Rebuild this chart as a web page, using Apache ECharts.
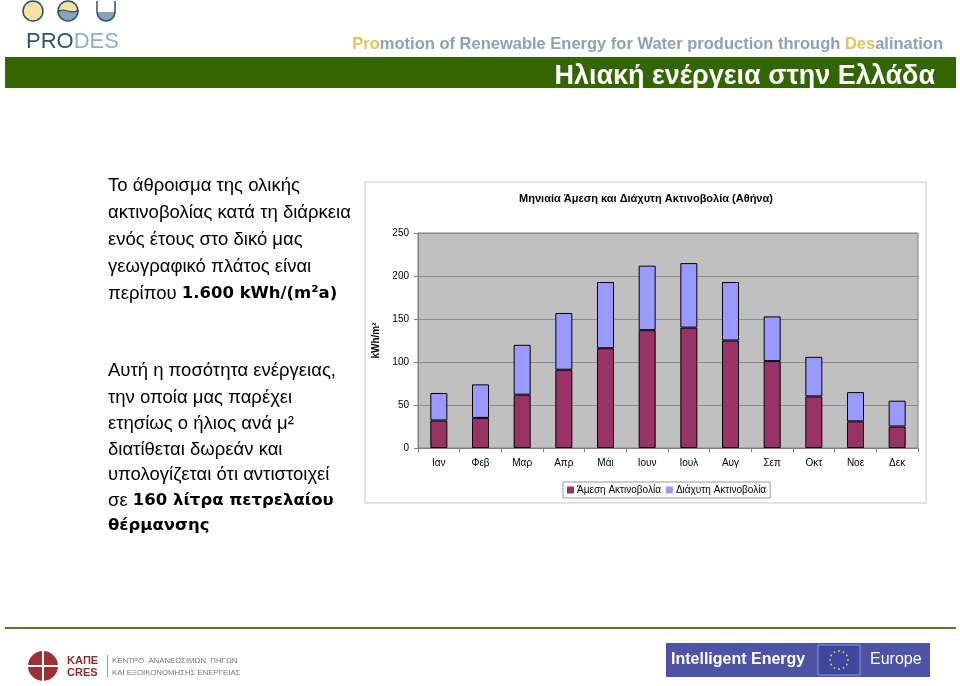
<!DOCTYPE html>
<html>
<head>
<meta charset="utf-8">
<script src="https://cdn.jsdelivr.net/npm/echarts@6/dist/echarts.min.js"></script>
<style>
  html, body { margin: 0; padding: 0; background: #fff; }
  #main { width: 960px; height: 686px; }
</style>
</head>
<body>
<div id="main"></div>
<script>
// μήνες και τιμές (kWh/m²) όπως διαβάζονται από το διάγραμμα
const months = ['Ιαν', 'Φεβ', 'Μαρ', 'Απρ', 'Μάι', 'Ιουν', 'Ιουλ', 'Αυγ', 'Σεπ', 'Οκτ', 'Νοε', 'Δεκ']
const directData = [32, 35, 62, 91, 116, 137, 140, 125, 101, 60, 31, 25]
const diffuseData = [32, 39, 58, 66, 77, 75, 75, 68, 52, 46, 34, 30]
const seriesNames = ['Άμεση Ακτινοβολία', 'Διάχυτη Ακτινοβολία']
const chartTitle = 'Μηνιαία Άμεση και Διάχυτη Ακτινοβολία (Αθήνα)'

const SANS = '"Liberation Sans", Arial, sans-serif'
const NARROW = '"Liberation Sans Narrow", "Liberation Sans", Arial, sans-serif'
const WIDE = '"DejaVu Sans", Verdana, sans-serif'

// γραμμές κειμένου αριστερά: [y, τμήματα]
const leftText = [
  [186, [['n', 'Το άθροισμα της ολικής']]],
  [213, [['n', 'ακτινοβολίας κατά τη διάρκεια']]],
  [240, [['n', 'ενός έτους στο δικό μας']]],
  [267, [['n', 'γεωγραφικό πλάτος είναι']]],
  [294, [['n', 'περίπου '], ['b', '1.600 kWh/(m²a)']]],
  [371, [['n', 'Αυτή η ποσότητα ενέργειας,']]],
  [398, [['n', 'την οποία μας παρέχει']]],
  [424, [['n', 'ετησίως ο ήλιος ανά μ²']]],
  [450, [['n', 'διατίθεται δωρεάν και']]],
  [475, [['n', 'υπολογίζεται ότι αντιστοιχεί']]],
  [501, [['n', 'σε '], ['b', '160 λίτρα πετρελαίου']]],
  [526, [['b', 'θέρμανσης']]]
]

let chart = echarts.init(document.getElementById('main'), null, {renderer: 'canvas'})

const graphics = []

// --- κεφαλίδα: λογότυπο PRODES ---
graphics.push({type: 'circle', shape: {cx: 33, cy: 11, r: 10}, style: {fill: '#f3e2a4', stroke: '#2c4f6e', lineWidth: 1.5}})
graphics.push({type: 'circle', shape: {cx: 68, cy: 11, r: 10}, style: {fill: '#f3e2a4'}})
graphics.push({type: 'sector', shape: {cx: 68, cy: 11, r: 10, startAngle: 0, endAngle: Math.PI}, style: {fill: '#8aa3b5'}})
graphics.push({type: 'bezierCurve', shape: {x1: 58, y1: 12, cpx1: 63, cpy1: 6, cpx2: 72, cpy2: 16, x2: 78, y2: 10}, style: {stroke: '#2c4f6e', lineWidth: 1.2, fill: null}})
graphics.push({type: 'circle', shape: {cx: 68, cy: 11, r: 10}, style: {fill: null, stroke: '#2c4f6e', lineWidth: 1.5}})
graphics.push({type: 'sector', shape: {cx: 106, cy: 12, r: 9, startAngle: 0, endAngle: Math.PI}, style: {fill: '#8aa3b5'}})
graphics.push({type: 'arc', shape: {cx: 106, cy: 12, r: 9, startAngle: 0, endAngle: Math.PI}, style: {stroke: '#2c4f6e', lineWidth: 1.5, fill: null}})
graphics.push({type: 'line', shape: {x1: 97, y1: 1, x2: 97, y2: 12}, style: {stroke: '#2c4f6e', lineWidth: 1.5}})
graphics.push({type: 'line', shape: {x1: 115, y1: 1, x2: 115, y2: 12}, style: {stroke: '#2c4f6e', lineWidth: 1.5}})
graphics.push({
  type: 'text', x: 26, y: 42,
  style: {
    text: '{a|PRO}{b|DES}', verticalAlign: 'middle',
    rich: {
      a: {fontSize: 22, fontFamily: NARROW, fill: '#2c5475'},
      b: {fontSize: 22, fontFamily: NARROW, fill: '#8fb0c8'}
    }
  }
})
graphics.push({
  type: 'text', x: 943, y: 44,
  style: {
    text: '{y|Pro}{g|motion of Renewable Energy for Water production through }{y|Des}{g|alination}',
    align: 'right', verticalAlign: 'middle',
    rich: {
      y: {fontSize: 16.5, fontWeight: 'bold', fontFamily: SANS, fill: '#e0c45e'},
      g: {fontSize: 16.5, fontWeight: 'bold', fontFamily: SANS, fill: '#8ea3ae'}
    }
  }
})
graphics.push({type: 'rect', shape: {x: 5, y: 57, width: 951, height: 31}, style: {fill: '#336600'}})
graphics.push({
  type: 'text', x: 935, y: 77,
  style: {text: 'Ηλιακή ενέργεια στην Ελλάδα', align: 'right', verticalAlign: 'middle',
    fontSize: 27, fontWeight: 'bold', fontFamily: SANS, fill: '#ffffff'}
})

// --- κείμενο αριστερά ---
leftText.forEach(([y, parts]) => {
  graphics.push({
    type: 'text', x: 108, y: y,
    style: {
      text: parts.map(([k, t]) => '{' + k + '|' + t + '}').join(''),
      verticalAlign: 'middle',
      rich: {
        n: {fontSize: 18.5, fontFamily: SANS, fill: '#000'},
        b: {fontSize: 16.5, fontWeight: 'bold', fontFamily: WIDE, fill: '#000'}
      }
    }
  })
})

// --- πλαίσιο διαγράμματος ---
graphics.push({type: 'rect', z: -5, shape: {x: 365, y: 182, width: 561, height: 321}, style: {fill: '#fff', stroke: '#c8c8c8', lineWidth: 1}})
graphics.push({
  type: 'text', x: 646, y: 199,
  style: {text: chartTitle, align: 'center', verticalAlign: 'middle', fontSize: 11, fontWeight: 'bold', fontFamily: SANS, fill: '#000'}
})

// --- υποσέλιδο ---
graphics.push({type: 'rect', shape: {x: 5, y: 627, width: 951, height: 2}, style: {fill: '#4d7a2e'}})
graphics.push({type: 'circle', shape: {cx: 43, cy: 666, r: 15}, style: {fill: '#9c3034'}})
graphics.push({type: 'rect', shape: {x: 42, y: 651, width: 2, height: 30}, style: {fill: '#fff'}})
graphics.push({type: 'rect', shape: {x: 28, y: 665, width: 30, height: 2}, style: {fill: '#fff'}})
graphics.push({
  type: 'text', x: 67, y: 661,
  style: {text: 'ΚΑΠΕ', verticalAlign: 'middle', fontSize: 11, fontWeight: 'bold', fontFamily: SANS, fill: '#8e2a2e'}
})
graphics.push({
  type: 'text', x: 67, y: 673,
  style: {text: 'CRES', verticalAlign: 'middle', fontSize: 11, fontWeight: 'bold', fontFamily: SANS, fill: '#8e2a2e'}
})
graphics.push({type: 'rect', shape: {x: 107, y: 655, width: 1, height: 22}, style: {fill: '#999'}})
graphics.push({
  type: 'text', x: 112, y: 661,
  style: {text: 'ΚΕΝΤΡΟ  ΑΝΑΝΕΩΣΙΜΩΝ  ΠΗΓΩΝ', verticalAlign: 'middle', fontSize: 7.8, fontFamily: NARROW, fill: '#777'}
})
graphics.push({
  type: 'text', x: 112, y: 673,
  style: {text: 'ΚΑΙ ΕΞΟΙΚΟΝΟΜΗΣΗΣ ΕΝΕΡΓΕΙΑΣ', verticalAlign: 'middle', fontSize: 7.8, fontFamily: NARROW, fill: '#777'}
})
graphics.push({type: 'rect', shape: {x: 666, y: 643, width: 264, height: 34}, style: {fill: '#4d54a6'}})
graphics.push({
  type: 'text', x: 671, y: 660,
  style: {text: 'Intelligent Energy', verticalAlign: 'middle', fontSize: 16, fontWeight: 'bold', fontFamily: NARROW, fill: '#fff'}
})
graphics.push({type: 'rect', shape: {x: 818, y: 645, width: 42, height: 30}, style: {fill: '#3d47a0', stroke: '#8f97d0', lineWidth: 1}})
for (let i = 0; i < 12; i++) {
  const a = i * Math.PI / 6
  graphics.push({type: 'circle', shape: {cx: 839 + 9 * Math.cos(a), cy: 660 + 9 * Math.sin(a), r: 0.9}, style: {fill: '#e8d24a'}})
}
graphics.push({
  type: 'text', x: 870, y: 660,
  style: {text: 'Europe', verticalAlign: 'middle', fontSize: 16, fontFamily: NARROW, fill: '#fff'}
})

chart.setOption({
  animation: false,
  backgroundColor: '#fff',
  textStyle: {fontFamily: SANS},
  graphic: graphics,
  grid: {
    left: 418,
    right: 42,
    top: 233,
    bottom: 238,
    show: true,
    backgroundColor: '#c0c0c0',
    borderColor: '#808080',
    borderWidth: 1
  },
  legend: {
    data: seriesNames.map(n => ({name: n, itemStyle: {borderWidth: 0}})),
    left: 563,
    top: 482,
    itemWidth: 7,
    itemHeight: 7,
    itemGap: 5,
    padding: [3, 4],
    borderColor: '#999',
    borderWidth: 1,
    icon: 'rect',
    textStyle: {fontSize: 10, color: '#000', padding: [0, 0, 0, -2]}
  },
  xAxis: {
    type: 'category',
    data: months,
    axisLine: {lineStyle: {color: '#808080'}},
    axisTick: {show: true, length: 4, lineStyle: {color: '#808080'}},
    axisLabel: {fontSize: 10, color: '#000', margin: 10}
  },
  yAxis: {
    type: 'value',
    min: 0,
    max: 250,
    interval: 50,
    name: 'kWh/m²',
    nameLocation: 'middle',
    nameRotate: 90,
    nameGap: 30,
    nameTextStyle: {fontSize: 10, fontWeight: 'bold', color: '#000'},
    axisLine: {show: true, lineStyle: {color: '#808080'}},
    axisTick: {show: true, length: 4, lineStyle: {color: '#808080'}},
    axisLabel: {fontSize: 10, color: '#000', margin: 9},
    splitLine: {lineStyle: {color: '#8c8c8c', width: 1}}
  },
  series: [
    {
      name: seriesNames[0],
      type: 'bar',
      stack: 'total',
      data: directData,
      barWidth: 17,
      itemStyle: {color: '#993366', borderColor: '#000', borderWidth: 1}
    },
    {
      name: seriesNames[1],
      type: 'bar',
      stack: 'total',
      data: diffuseData,
      barWidth: 17,
      itemStyle: {color: '#9999ff', borderColor: '#000', borderWidth: 1}
    }
  ]
})
</script>
</body>
</html>
